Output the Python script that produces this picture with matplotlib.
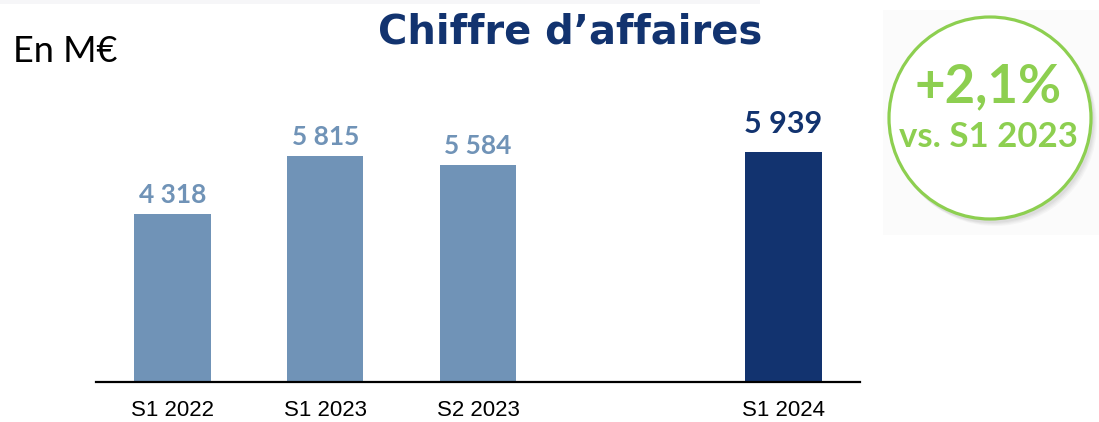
import matplotlib
matplotlib.use("Agg")
import matplotlib.pyplot as plt
from matplotlib.patches import Ellipse, Rectangle
from matplotlib.transforms import blended_transform_factory

# ---- data ----
categories = ["S1 2022", "S1 2023", "S2 2023", "S1 2024"]
positions = [0, 1, 2, 4]
values = [4318, 5815, 5584, 5939]
value_labels = ["4 318", "5 815", "5 584", "5 939"]
title = "Chiffre d\u2019affaires"
unit_label = "En M\u20ac"
badge_main = "+2,1%"
badge_sub = "vs. S1 2023"

LIGHT = "#7093B7"
DARK = "#12336F"
GREEN = "#8DCF50"

W, H = 1099, 422
fig = plt.figure(figsize=(W / 100, H / 100), dpi=100)
fig.patch.set_facecolor("white")

def fx(px):
    return px / W

def fy(py):
    return 1 - py / H

# faint background areas
fig.add_artist(Rectangle((0, fy(4)), fx(760), 4 / H, transform=fig.transFigure,
                         facecolor="#f6f6f8", edgecolor="none", zorder=0))
fig.add_artist(Rectangle((fx(883), fy(235)), fx(W - 883), (235 - 10) / H,
                         transform=fig.transFigure, facecolor="#fbfbfb",
                         edgecolor="none", zorder=0))

# axes
ax_left, ax_right, ax_bottom, ax_top = 96, 860, 382, 60
ax = fig.add_axes([fx(ax_left), fy(ax_bottom), (ax_right - ax_left) / W,
                   (ax_bottom - ax_top) / H])
ax.set_facecolor("none")
px_per_unit = 0.0388
ax.set_ylim(0, (ax_bottom - ax_top) / px_per_unit)
ax.set_xlim(-0.5, 4.5)

colors = [LIGHT, LIGHT, LIGHT, DARK]
bars = ax.bar(positions, values, width=0.5, color=colors, zorder=2)

for x, v, lab, c in zip(positions, values, value_labels, colors):
    big = c == DARK
    ax.annotate(lab, (x, v), xytext=(0, 13.5 if big else 8.5),
                textcoords="offset points", ha="center", va="baseline",
                fontsize=22 if big else 19, fontweight="bold",
                family="Lato", color=c)

for s in ["top", "left", "right"]:
    ax.spines[s].set_visible(False)
ax.spines["bottom"].set_linewidth(1.6)
ax.spines["bottom"].set_color("black")
ax.set_yticks([])
ax.set_xticks([])

# category labels below the axis (baseline in pixels)
trans = blended_transform_factory(ax.transData, fig.transFigure)
for x, cat in zip(positions, categories):
    ax.text(x, fy(416), cat, transform=trans, ha="center", va="baseline",
            family="Liberation Sans", fontsize=16, color="black",
            clip_on=False)

# title & unit
fig.text(fx(570), fy(43), title, ha="center", va="baseline", fontsize=28.8,
         fontweight="bold", family="DejaVu Sans", color=DARK)
fig.text(fx(13), fy(62), unit_label, ha="left", va="baseline", fontsize=26,
         family="Lato", color="black")

# badge circle with shadow
cx, cy, r = 990, 118, 101
for i, a in enumerate([0.04, 0.04, 0.05, 0.06]):
    off = 5 - i
    fig.add_artist(Ellipse((fx(cx + off), fy(cy + off + 1)), 2 * (r + 1) / W,
                           2 * (r + 1) / H, transform=fig.transFigure,
                           facecolor="#555555", edgecolor="none", alpha=a,
                           zorder=1))
fig.add_artist(Ellipse((fx(cx), fy(cy)), 2 * r / W, 2 * r / H,
                       transform=fig.transFigure, facecolor="white",
                       edgecolor=GREEN, linewidth=2.3, zorder=2))
fig.text(fx(988), fy(102), badge_main, ha="center", va="baseline",
         fontsize=38, fontweight="bold", family="Lato", color=GREEN, zorder=3)
fig.text(fx(988), fy(147), badge_sub, ha="center", va="baseline",
         fontsize=25, fontweight="bold", family="Lato", color=GREEN, zorder=3)

fig.savefig("out.png", dpi=100)
